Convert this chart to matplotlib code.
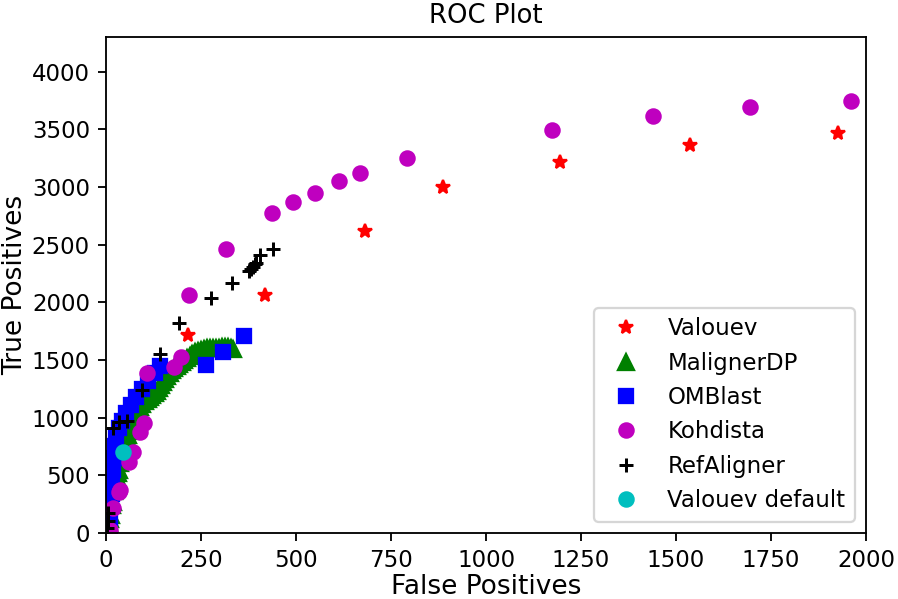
import matplotlib
matplotlib.use("Agg")
import matplotlib.pyplot as plt

# Valouev (red stars)
valouev_fp = [216, 418, 681, 888, 1195, 1537, 1925]
valouev_tp = [1717, 2064, 2621, 3003, 3220, 3364, 3466]

# MalignerDP (green triangles)
maligner_fp = [5, 8, 11, 13, 16, 18, 21, 24, 26, 29, 32, 34, 37, 40, 42, 47, 50, 53, 56,
               58, 62, 66, 70, 74, 78, 82, 86, 89, 96, 103, 110, 116, 122, 129, 134,
               139, 145, 150, 156, 161, 168, 174, 180, 187, 193, 200, 206, 213, 220,
               226, 234, 242, 250, 258, 266, 274, 282, 289, 297, 305, 313, 321, 328, 334]
maligner_tp = [61, 91, 121, 152, 243, 273, 364, 394, 425, 486, 516, 546, 607, 637, 668,
               728, 760, 789, 820, 850, 880, 910, 940, 971, 1000, 1032, 1062, 1093, 1120,
               1145, 1162, 1179, 1196, 1214, 1235, 1257, 1283, 1309, 1335, 1361, 1387,
               1413, 1430, 1448, 1465, 1483, 1500, 1517, 1535, 1552, 1565, 1578, 1587,
               1595, 1600, 1604, 1604, 1604, 1608, 1613, 1613, 1613, 1605, 1595]

# OMBlast (blue squares)
omblast_fp = [5, 11, 13, 16, 16, 18, 21, 24, 26, 34, 42, 53, 66, 79, 95, 111, 129, 142,
              263, 308, 363]
omblast_tp = [43, 130, 234, 338, 442, 546, 650, 754, 841, 910, 971, 1040, 1110, 1179,
              1249, 1318, 1387, 1448, 1457, 1569, 1704]

# Kohdista (magenta circles)
kohdista_fp = [10, 19, 34, 37, 61, 72, 89, 100, 109, 179, 197, 219, 315, 436, 492, 550,
               612, 669, 793, 1173, 1440, 1695, 1961]
kohdista_tp = [26, 214, 358, 373, 618, 705, 878, 951, 1385, 1442, 1529, 2064, 2462, 2772,
               2867, 2951, 3049, 3121, 3254, 3494, 3616, 3691, 3749]

# RefAligner (black plus)
refaligner_fp = [2, 4, 6, 19, 33, 54, 96, 142, 192, 275, 332, 376, 382, 387, 391, 395, 405, 440]
refaligner_tp = [40, 100, 170, 908, 960, 968, 1240, 1552, 1818, 2035, 2165, 2270, 2290,
                 2310, 2330, 2345, 2410, 2465]

# Valouev default (cyan circle)
vdefault_fp = [44]
vdefault_tp = [700]

fig = plt.figure(figsize=(898 / 165, 599 / 165), dpi=165)
ax = fig.add_axes([106 / 898, 1 - 533 / 599, (866 - 106) / 898, (533 - 37) / 599])

ax.plot(valouev_fp, valouev_tp, 'r*', ms=6.4, label='Valouev')
ax.plot(maligner_fp, maligner_tp, 'g^', ms=6.8, label='MalignerDP')
ax.plot(omblast_fp, omblast_tp, 'bs', ms=6.2, label='OMBlast')
ax.plot(kohdista_fp, kohdista_tp, 'mo', ms=6.2, label='Kohdista')
ax.plot(refaligner_fp, refaligner_tp, 'k+', ms=6.2, mew=1.3, label='RefAligner')
ax.plot(vdefault_fp, vdefault_tp, 'co', ms=6.2, label='Valouev default')

ax.set_xlim(0, 2000)
ax.set_ylim(0, 4300)
ax.set_xticks([0, 250, 500, 750, 1000, 1250, 1500, 1750, 2000])
ax.set_yticks([0, 500, 1000, 1500, 2000, 2500, 3000, 3500, 4000])
ax.set_xlabel('False Positives', fontsize=11.5)
ax.xaxis.set_label_coords(0.5, -(594 - 533) / 496, transform=ax.transAxes)
ax.xaxis.label.set_va('baseline')
ax.set_ylabel('True Positives', fontsize=11.5)
ax.yaxis.set_label_coords(-(106 - 28) / 760, 0.5, transform=ax.transAxes)
ax.set_title('ROC Plot', fontsize=11.3)
ax.legend(loc='lower right')

fig.savefig('out.png', dpi=165)
